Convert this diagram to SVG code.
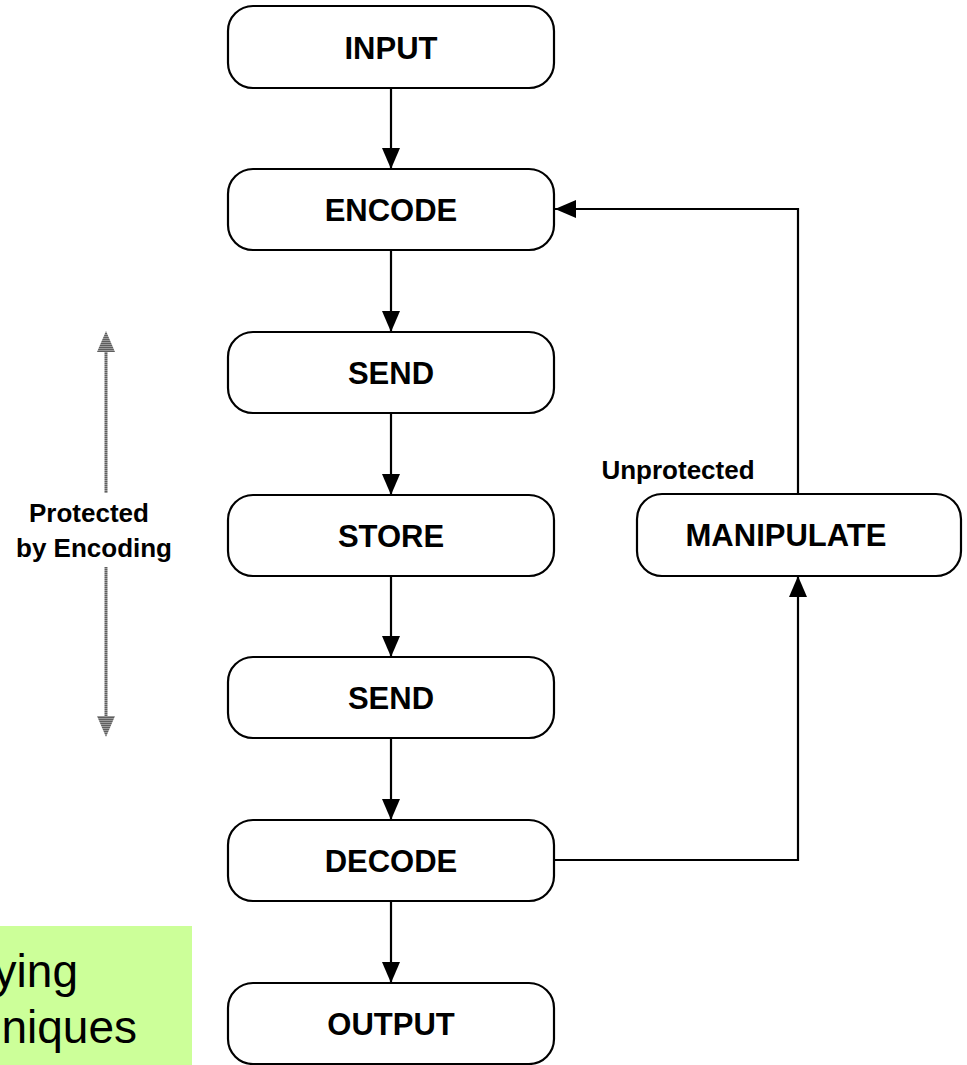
<svg xmlns="http://www.w3.org/2000/svg" width="967" height="1065" viewBox="0 0 967 1065">
  <style>
    .box { fill: #ffffff; stroke: #000000; stroke-width: 2.2; }
    .lbl { font-family: "Liberation Sans", Arial, sans-serif; font-weight: bold; font-size: 31px; fill: #000000; text-anchor: middle; }
    .note { font-family: "Liberation Sans", Arial, sans-serif; font-weight: bold; font-size: 26px; fill: #000000; text-anchor: middle; }
    .big { font-family: "Liberation Sans", Arial, sans-serif; font-size: 46px; fill: #000000; text-anchor: end; }
    .wire { fill: none; stroke: #000000; stroke-width: 2.2; }
    .span { fill: none; stroke: url(#stripes); stroke-width: 3; }
  </style>
  <defs>
    <marker id="head" markerUnits="userSpaceOnUse" markerWidth="22" markerHeight="18" refX="21" refY="9" orient="auto">
      <path d="M0,0 L21,9 L0,18 z" fill="#000000"/>
    </marker>
    <pattern id="stripes" patternUnits="userSpaceOnUse" width="4" height="2">
      <rect x="0" y="0" width="4" height="1" fill="#9a9a9a"/>
      <rect x="0" y="1" width="4" height="1" fill="#5e5e5e"/>
    </pattern>
  </defs>

  <!-- highlighted caption strip at the lower left -->
  <g id="caption">
    <rect x="-2" y="926" width="194" height="141" fill="#ccff99"/>
    <text class="big" x="78" y="987">ying</text>
    <text class="big" x="137" y="1043">niques</text>
  </g>

  <!-- connectors -->
  <g id="connectors">
    <line class="wire" x1="391" y1="88" x2="391" y2="169" marker-end="url(#head)"/>
    <line class="wire" x1="391" y1="250" x2="391" y2="332" marker-end="url(#head)"/>
    <line class="wire" x1="391" y1="413" x2="391" y2="495" marker-end="url(#head)"/>
    <line class="wire" x1="391" y1="576" x2="391" y2="657" marker-end="url(#head)"/>
    <line class="wire" x1="391" y1="738" x2="391" y2="820" marker-end="url(#head)"/>
    <line class="wire" x1="391" y1="901" x2="391" y2="983" marker-end="url(#head)"/>
    <polyline class="wire" points="554,860 798,860 798,576" marker-end="url(#head)"/>
    <polyline class="wire" points="798,494 798,209 555,209" marker-end="url(#head)"/>
  </g>

  <!-- protected span indicator -->
  <g id="protected-span">
    <line class="span" x1="106" y1="350" x2="106" y2="493"/>
    <line class="span" x1="106" y1="567" x2="106" y2="718"/>
    <polygon points="106,331 115,352 97,352" fill="url(#stripes)"/>
    <polygon points="97,716 115,716 106,737" fill="url(#stripes)"/>
    <text class="note" x="89" y="522">Protected</text>
    <text class="note" x="94" y="557">by Encoding</text>
  </g>

  <g id="input">
    <rect class="box" x="228" y="6" width="326" height="82" rx="25"/>
    <text class="lbl" x="391" y="58.5">INPUT</text>
  </g>
  <g id="encode">
    <rect class="box" x="228" y="169" width="326" height="81" rx="25"/>
    <text class="lbl" x="391" y="221">ENCODE</text>
  </g>
  <g id="send1">
    <rect class="box" x="228" y="332" width="326" height="81" rx="25"/>
    <text class="lbl" x="391" y="384">SEND</text>
  </g>
  <g id="store">
    <rect class="box" x="228" y="495" width="326" height="81" rx="25"/>
    <text class="lbl" x="391" y="547">STORE</text>
  </g>
  <g id="send2">
    <rect class="box" x="228" y="657" width="326" height="81" rx="25"/>
    <text class="lbl" x="391" y="709">SEND</text>
  </g>
  <g id="decode">
    <rect class="box" x="228" y="820" width="326" height="81" rx="25"/>
    <text class="lbl" x="391" y="872">DECODE</text>
  </g>
  <g id="output">
    <rect class="box" x="228" y="983" width="326" height="81" rx="25"/>
    <text class="lbl" x="391" y="1035">OUTPUT</text>
  </g>
  <g id="manipulate">
    <rect class="box" x="637" y="494" width="324" height="82" rx="25"/>
    <text class="lbl" x="786" y="546">MANIPULATE</text>
    <text class="note" x="678" y="479">Unprotected</text>
  </g>
</svg>
